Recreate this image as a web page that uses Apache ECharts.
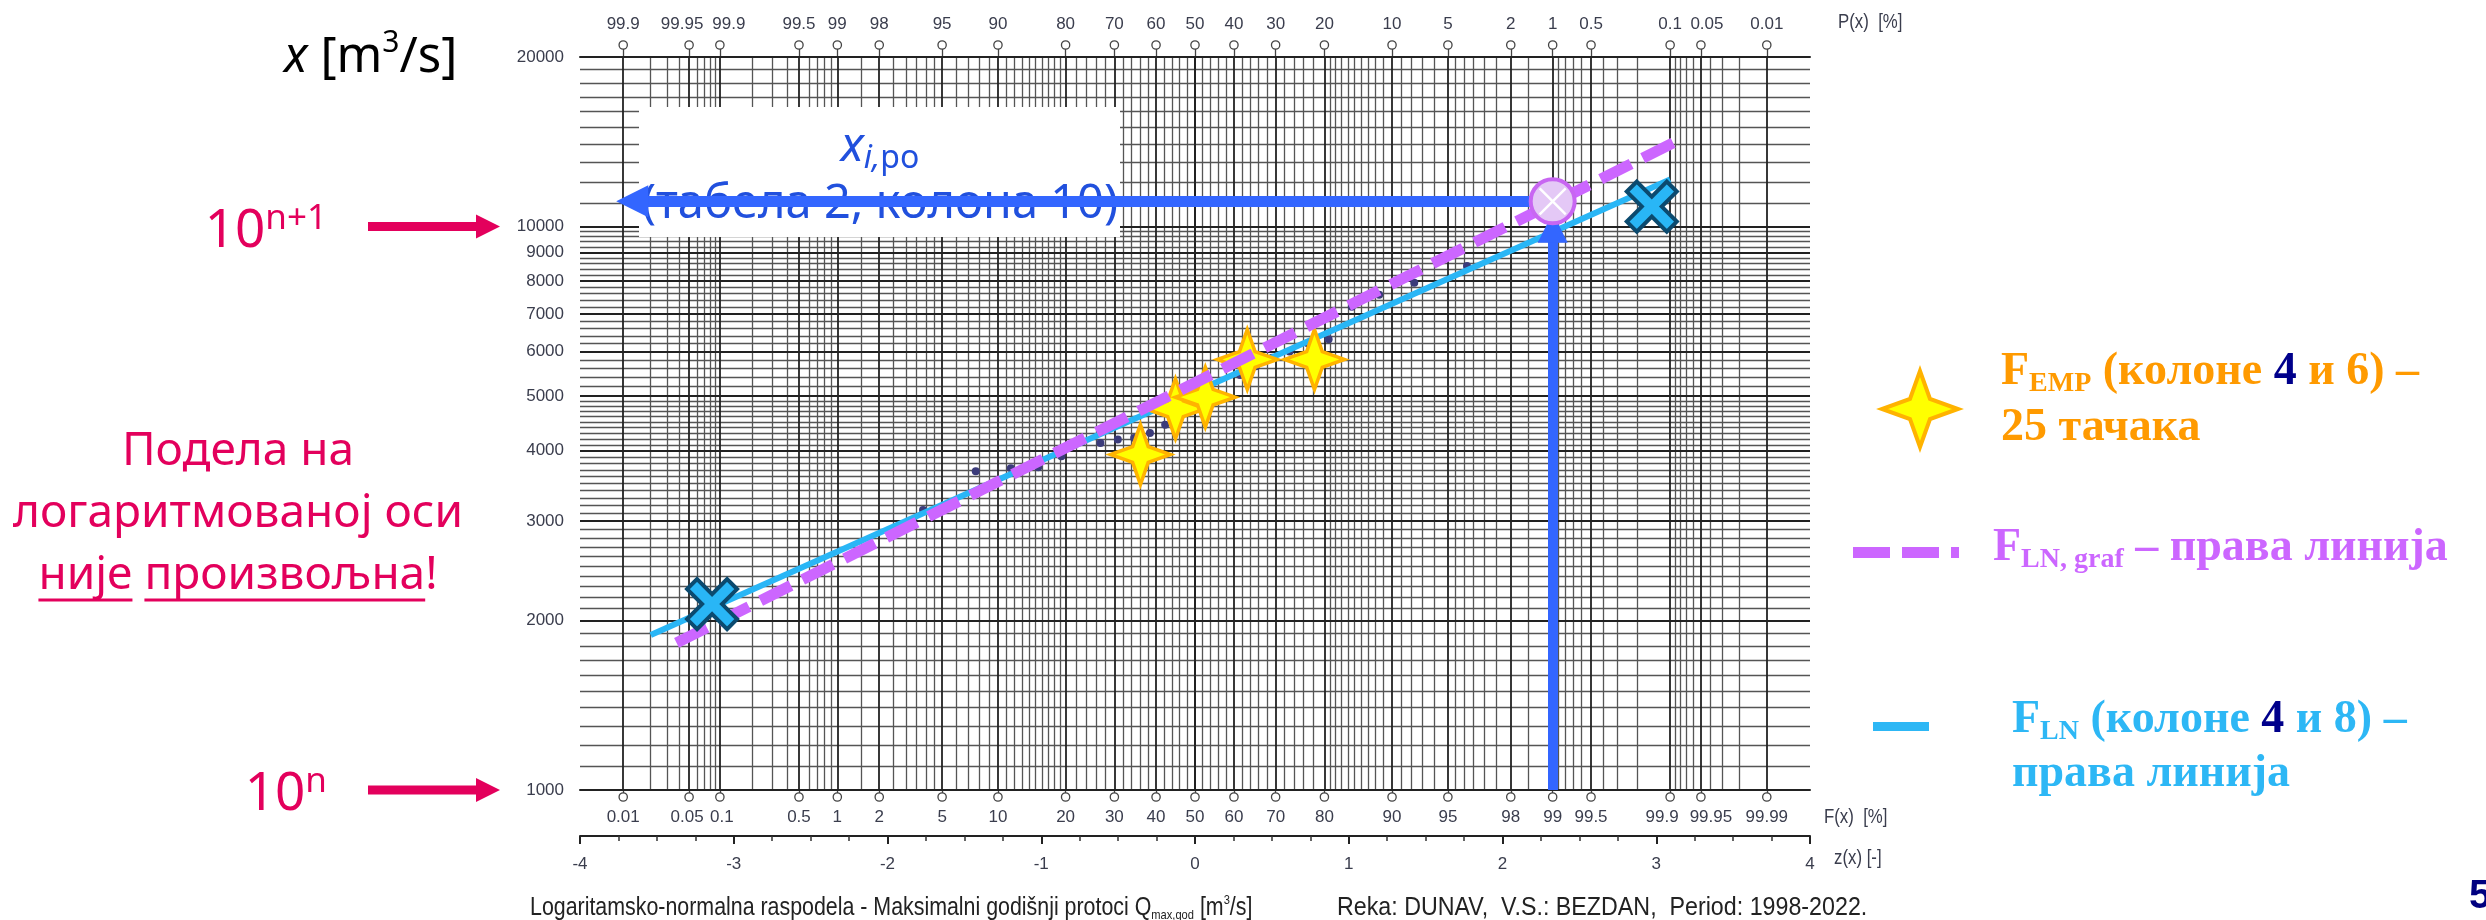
<!DOCTYPE html>
<html><head><meta charset="utf-8">
<script src="https://cdn.jsdelivr.net/npm/echarts@6/dist/echarts.min.js"></script>
<style>html,body{margin:0;padding:0;background:#fff}#c{width:2486px;height:920px}</style>
</head><body><div id="c"></div>
<script>
// ---------------- data ----------------
// probability tick positions (F, %), bottom labels and top (P) labels as printed
const fTickPct = [0.01,0.05,0.1,0.5,1,2,5,10,20,30,40,50,60,70,80,90,95,98,99,99.5,99.9,99.95,99.99];
const fTickLabels = ['0.01','0.05','0.1','0.5','1','2','5','10','20','30','40','50','60','70','80','90','95','98','99','99.5','99.9','99.95','99.99'];
const pTickLabels = ['99.9','99.95','99.9','99.5','99','98','95','90','80','70','60','50','40','30','20','10','5','2','1','0.5','0.1','0.05','0.01'];
// probability grid (lower half, %), mirrored for upper half
const gridLowPct = [0.01,0.02,0.03,0.04,0.05,0.06,0.07,0.08,0.09,0.1,0.2,0.3,0.4,0.5,0.6,0.7,0.8,0.9,1,1.5,2,2.5,3,3.5,4,4.5,5,6,7,8,9,10,11,12,13,14,15,16,17,18,19,20,22,24,26,28,30,32,34,36,38,40,42,44,46,48,50];
// value axis labels
const yTickValues = [1000,2000,3000,4000,5000,6000,7000,8000,9000,10000,20000];
// empirical points (z, Q) – 25 points
const empZ = [-1.769,-1.426,-1.198,-1.020,-0.869,-0.736,-0.615,-0.502,-0.396,-0.293,-0.194,-0.097,0,0.097,0.194,0.293,0.396,0.502,0.615,0.736,0.869,1.020,1.198,1.426,1.769];
const empQ = [3140,3680,3725,3740,3910,4150,4130,4190,4215,4300,4450,4600,4750,4850,5000,5450,5650,5850,6000,6200,6310,7210,7570,7950,8510];
// highlighted empirical points (stars)
const starZ = [-0.355,-0.127,0.067,0.34,0.777];
const starQ = [3940,4750,4980,5810,5810];
// F_LN line (columns 4 and 8)
const lnZ = [-3.54, 3.09];
const lnQ = [1885, 12120];
// F_LN,graf line
const grafZ = [-3.372, 3.153];
const grafQ = [1824, 14275];
// blue X markers
const xmZ = [-3.141, 2.971];
const xmQ = [2138, 10853];
// read-off point x_i,po
const poF = 99;
const poQ = 11090;
const arrowEndZ = -3.66;
const vArrowTopQ = 9950;

// ---------------- helpers ----------------
function probit(p){
 const a=[-3.969683028665376e+01,2.209460984245205e+02,-2.759285104469687e+02,1.383577518672690e+02,-3.066479806614716e+01,2.506628277459239e+00];
 const b=[-5.447609879822406e+01,1.615858368580409e+02,-1.556989798598866e+02,6.680131188771972e+01,-1.328068155288572e+01];
 const c=[-7.784894002430293e-03,-3.223964580411365e-01,-2.400758277161838e+00,-2.549732539343734e+00,4.374664141464968e+00,2.938163982698783e+00];
 const d=[7.784695709041462e-03,3.224671290700398e-01,2.445134137142996e+00,3.754408661907416e+00];
 const pl=0.02425, ph=1-pl; let q,r;
 if(p<pl){q=Math.sqrt(-2*Math.log(p));return (((((c[0]*q+c[1])*q+c[2])*q+c[3])*q+c[4])*q+c[5])/((((d[0]*q+d[1])*q+d[2])*q+d[3])*q+1);}
 if(p<=ph){q=p-0.5;r=q*q;return (((((a[0]*r+a[1])*r+a[2])*r+a[3])*r+a[4])*r+a[5])*q/(((((b[0]*r+b[1])*r+b[2])*r+b[3])*r+b[4])*r+1);}
 q=Math.sqrt(-2*Math.log(1-p));return -(((((c[0]*q+c[1])*q+c[2])*q+c[3])*q+c[4])*q+c[5])/((((d[0]*q+d[1])*q+d[2])*q+d[3])*q+1);
}
const fZ = fTickPct.map(p => probit(p/100));
function nearestIdx(arr, v){let bi=0,bd=1e9;arr.forEach((x,i)=>{const d=Math.abs(x-v);if(d<bd){bd=d;bi=i;}});return bi;}
const zPo = probit(poF/100);

// grid line sets
const gridPct = gridLowPct.concat(gridLowPct.filter(p=>p<50).map(p=>+(100-p).toFixed(4)));
const majorPctSet = new Set(fTickPct.map(String));
const vMinor = [], vMajor = [];
gridPct.forEach(p => { const z = probit(p/100); const item = {coords:[[z,1000],[z,20000]]}; (majorPctSet.has(String(p)) ? vMajor : vMinor).push(item); });
const hMinor = [], hMajor = [];
for (let q = 1100; q < 5000; q += 100) { if (q % 1000 === 0) continue; hMinor.push({coords:[[-4,q],[4,q]]}); }
for (let q = 5200; q < 10000; q += 200) { if (q % 1000 === 0) continue; hMinor.push({coords:[[-4,q],[4,q]]}); }
for (let q = 11000; q < 20000; q += 1000) hMinor.push({coords:[[-4,q],[4,q]]});
yTickValues.forEach(q => hMajor.push({coords:[[-4,q],[4,q]]}));

const AX_FONT = 'Liberation Sans';
const AX_COL = '#3a3d4d';
const starPath = 'path://M5,0L6.3,3.7L10,5L6.3,6.3L5,10L3.7,6.3L0,5L3.7,3.7Z';
const xPath = 'path://M2,0L5,3L8,0L10,2L7,5L10,8L8,10L5,7L2,10L0,8L3,5L0,2Z';
const xLinesPath = 'path://M0,0L10,10M10,0L0,10';

// label nudges for crowded probability labels (px, + = right)
const topShift = {1:-7, 2:9, 21:6};
const botShift = {1:-2, 2:2, 20:-8, 21:10};
function makeRich(shiftMap, lh){
  const rich = {o:{width:7,height:7,lineHeight:8,borderColor:'#444',borderWidth:1.3,borderRadius:4,backgroundColor:'#fff'},
                t:{fontFamily:AX_FONT,fontSize:17,color:AX_COL,lineHeight:lh}};
  Object.keys(shiftMap).forEach(k => { const s = shiftMap[k];
    rich['t'+k] = {fontFamily:AX_FONT,fontSize:17,color:AX_COL,lineHeight:lh,padding: s>0 ? [0,0,0,2*s] : [0,-2*s,0,0]}; });
  return rich;
}
function tname(shiftMap, i){ return shiftMap[i] !== undefined ? 't'+i : 't'; }

const chart = echarts.init(document.getElementById('c'), null, {renderer:'canvas'});
const option = {
  animation:false,
  backgroundColor:'#fff',
  grid:{left:580, right:676, top:57, bottom:130, containLabel:false, outerBoundsMode:'none'},
  xAxis:[
    {type:'value', min:-4, max:4, interval:1, position:'bottom', offset:46,
     axisLine:{show:true,onZero:false,lineStyle:{color:'#222',width:2}},
     axisTick:{show:true,length:8,lineStyle:{color:'#222',width:2}},
     minorTick:{show:true,splitNumber:4,length:5,lineStyle:{color:'#333',width:1.5}},
     axisLabel:{margin:20,fontFamily:AX_FONT,fontSize:17,color:AX_COL,showMinLabel:true,showMaxLabel:true},
     splitLine:{show:false}},
    {type:'value', min:-4, max:4, position:'bottom', offset:0,
     axisLine:{show:true,onZero:false,lineStyle:{color:'#222',width:2}},
     axisTick:{show:true,customValues:fZ,length:4,lineStyle:{color:'#444',width:1.3}},
     axisLabel:{customValues:fZ, margin:3,
       formatter:v => { const i = nearestIdx(fZ,v); return '{o|}\n{' + tname(botShift,i) + '|' + fTickLabels[i] + '}'; },
       rich:makeRich(botShift,32)},
     splitLine:{show:false}},
    {type:'value', min:-4, max:4, position:'top', offset:0,
     axisLine:{show:true,onZero:false,lineStyle:{color:'#222',width:2}},
     axisTick:{show:true,customValues:fZ,length:8,lineStyle:{color:'#444',width:1.3}},
     axisLabel:{customValues:fZ, margin:8,
       formatter:v => { const i = nearestIdx(fZ,v); return '{' + tname(topShift,i) + '|' + pTickLabels[i] + '}\n{o|}'; },
       rich:makeRich(topShift,34)},
     splitLine:{show:false}}
  ],
  yAxis:[
    {type:'log', logBase:10, min:1000, max:20000, position:'left',
     axisLine:{show:true,lineStyle:{color:'#222',width:2}},
     axisTick:{show:true,customValues:yTickValues,length:6,lineStyle:{color:'#222',width:2}},
     axisLabel:{customValues:yTickValues, margin:16, fontFamily:AX_FONT, fontSize:17, color:AX_COL, formatter:v=>String(Math.round(v))},
     splitLine:{show:false}, minorTick:{show:false}},
    {type:'log', logBase:10, min:1000, max:20000, position:'right',
     axisLine:{show:true,lineStyle:{color:'#222',width:2}}, axisTick:{show:false}, axisLabel:{show:false}, splitLine:{show:false}}
  ],
  series:[
    {type:'lines', coordinateSystem:'cartesian2d', silent:true, z:1, lineStyle:{color:'#555555',width:1.3,opacity:1}, data:vMinor.concat(hMinor)},
    {type:'lines', coordinateSystem:'cartesian2d', silent:true, z:1, lineStyle:{color:'#222222',width:1.8,opacity:1}, data:vMajor.concat(hMajor)},
    {type:'scatter', name:'emp', z:20, symbol:'circle', symbolSize:8, itemStyle:{color:'#3b3b7a',opacity:1}, data:empZ.map((z,i)=>[z,empQ[i]])},
    {type:'line', name:'F_LN', z:21, symbol:'none', lineStyle:{color:'#29B6F6',width:6}, data:lnZ.map((z,i)=>[z,lnQ[i]])},
    {type:'scatter', name:'F_EMP', z:22, symbol:starPath, symbolSize:60, itemStyle:{color:'#FFFF00',borderColor:'#FFB300',borderWidth:3.5,opacity:1}, data:starZ.map((z,i)=>[z,starQ[i]])},
    {type:'line', name:'F_LN,graf', z:23, symbol:'none', lineStyle:{color:'#CC66FF',width:11,type:[34,13],cap:'butt'}, data:grafZ.map((z,i)=>[z,grafQ[i]])},
    {type:'scatter', name:'X', z:24, symbol:xPath, symbolSize:50, itemStyle:{color:'#29B6F6',borderColor:'#0B4A6F',borderWidth:4,opacity:1}, data:xmZ.map((z,i)=>[z,xmQ[i]])},
    {type:'lines', coordinateSystem:'cartesian2d', silent:true, z:25, symbol:['none','triangle'], symbolSize:[0,32],
     lineStyle:{color:'#3366FF',width:11,opacity:1,cap:'butt'}, itemStyle:{color:'#3366FF'},
     data:[{coords:[[zPo,poQ],[arrowEndZ,poQ]]}]},
    {type:'lines', coordinateSystem:'cartesian2d', silent:true, z:25, symbol:['none','triangle'], symbolSize:[0,30],
     lineStyle:{color:'#3366FF',width:10,opacity:1,cap:'butt'},
     data:[{coords:[[zPo,1000],[zPo,vArrowTopQ]]}]},
    {type:'scatter', z:26, symbol:'circle', symbolSize:44, itemStyle:{color:'#E4C8F6',borderColor:'#C866F2',borderWidth:4,opacity:1}, data:[[zPo,poQ]]},
    {type:'scatter', z:27, symbol:xLinesPath, symbolSize:26, itemStyle:{color:'none',borderColor:'#FFFFFF',borderWidth:2.5,opacity:1}, data:[[zPo,poQ]]}
  ]
};
chart.setOption(option);

// ---------------- annotations ----------------
const PINK = '#E3005C';
const y10k = chart.convertToPixel({yAxisIndex:0}, 10000);
const y1k = chart.convertToPixel({yAxisIndex:0}, 1000);
function pinkArrow(yc){
  return {type:'polygon', z:30, silent:true, shape:{points:[[368,yc-4.5],[476,yc-4.5],[476,yc-12],[500,yc],[476,yc+12],[476,yc+4.5],[368,yc+4.5]]}, style:{fill:PINK}};
}
const PFONT = '"Noto Sans"';
const ctx = document.createElement('canvas').getContext('2d');
ctx.font = '46px "Noto Sans"';
const l3a = 'није', l3b = 'произвољна', l3full = 'није произвољна!';
const wFull = ctx.measureText(l3full).width, wA = ctx.measureText(l3a).width, wSp = ctx.measureText('није ').width, wB = ctx.measureText(l3b).width;
const l3left = 238 - wFull/2;

function txt(x,y,text,rich,align,extra){
  return Object.assign({type:'text', x:x, y:y, z:30, silent:true,
    style:{text:text, rich:rich, align:align||'left', textAlign:align||'left', verticalAlign:'middle', textVerticalAlign:'middle'}}, extra||{});
}
const ORANGE='#FF9A00', NAVY='#00008B', PURP='#CC66FF', LBLUE='#2DB7F5', TBLUE='#2150DD';
const LF = 'Liberation Serif';
function legRich(col){
  return {m:{fontFamily:LF,fontWeight:'bold',fontSize:46,fill:col,lineHeight:52},
          s:{fontFamily:LF,fontWeight:'bold',fontSize:28,fill:col,lineHeight:22,verticalAlign:'bottom'},
          k:{fontFamily:LF,fontWeight:'bold',fontSize:46,fill:NAVY,lineHeight:52}};
}
const sx = 1920, sy = 409, R = 38, ri = 10;
const NARROW = {scaleX:0.84};
chart.setOption({graphic:[
  // annotation box
  {type:'rect', z:5, silent:true, shape:{x:639,y:107,width:481,height:130}, style:{fill:'#ffffff'}},
  txt(880,147,'{x|x}{s|i,}{p|po}',{x:{fontFamily:PFONT,fontStyle:'italic',fontSize:48,fill:TBLUE,lineHeight:56},
      s:{fontFamily:PFONT,fontStyle:'italic',fontSize:32,fill:TBLUE,lineHeight:30,verticalAlign:'bottom'},
      p:{fontFamily:PFONT,fontSize:32,fill:TBLUE,lineHeight:30,verticalAlign:'bottom'}},'center',{z:6}),
  txt(880,205,'{a|(табела 2, колона 10)}',{a:{fontFamily:PFONT,fontSize:47,fill:TBLUE,lineHeight:56}},'center',{z:6}),
  // left annotations
  txt(284,58,'{i|x}{n| [m}{u|3}{n|/s]}',{i:{fontFamily:PFONT,fontStyle:'italic',fontSize:49,fill:'#000',lineHeight:60},
      n:{fontFamily:PFONT,fontSize:49,fill:'#000',lineHeight:60},u:{fontFamily:PFONT,fontSize:30,fill:'#000',lineHeight:34,verticalAlign:'top'}},'left'),
  txt(327,232,'{d|10}{u|n+1}',{d:{fontFamily:PFONT,fontSize:53,fill:PINK,lineHeight:60},u:{fontFamily:PFONT,fontSize:35,fill:PINK,lineHeight:36,verticalAlign:'top'}},'right'),
  txt(327,y1k+5,'{d|10}{u|n}',{d:{fontFamily:PFONT,fontSize:53,fill:PINK,lineHeight:60},u:{fontFamily:PFONT,fontSize:35,fill:PINK,lineHeight:36,verticalAlign:'top'}},'right'),
  pinkArrow(y10k), pinkArrow(y1k),
  txt(238,452,'{a|Подела на}',{a:{fontFamily:PFONT,fontSize:46,fill:PINK}},'center'),
  txt(238,514,'{a|логаритмованој оси}',{a:{fontFamily:PFONT,fontSize:46,fill:PINK}},'center'),
  txt(238,576,'{a|' + l3full + '}',{a:{fontFamily:PFONT,fontSize:46,fill:PINK}},'center'),
  {type:'line', z:30, silent:true, shape:{x1:l3left, y1:600, x2:l3left+wA, y2:600}, style:{stroke:PINK, lineWidth:3}},
  {type:'line', z:30, silent:true, shape:{x1:l3left+wSp, y1:600, x2:l3left+wSp+wB, y2:600}, style:{stroke:PINK, lineWidth:3}},
  // axis names
  txt(1838,22,'{a|P(x)  [%]}',{a:{fontFamily:AX_FONT,fontSize:20,fill:AX_COL}},'left',NARROW),
  txt(1824,817,'{a|F(x)  [%]}',{a:{fontFamily:AX_FONT,fontSize:20,fill:AX_COL}},'left',NARROW),
  txt(1834,858,'{a|z(x) [-]}',{a:{fontFamily:AX_FONT,fontSize:20,fill:AX_COL}},'left',NARROW),
  // footer
  txt(530,908,'{a|Logaritamsko-normalna raspodela - Maksimalni godišnji protoci Q}{s|max,god}{a| [m}{u|3}{a|/s]}',
      {a:{fontFamily:AX_FONT,fontSize:25,fill:'#222',lineHeight:28},s:{fontFamily:AX_FONT,fontSize:13,fill:'#222',lineHeight:14,verticalAlign:'bottom'},
       u:{fontFamily:AX_FONT,fontSize:13,fill:'#222',lineHeight:14,verticalAlign:'top'}},'left',{scaleX:0.855}),
  txt(1337,908,'{a|Reka: DUNAV,  V.S.: BEZDAN,  Period: 1998-2022.}',{a:{fontFamily:AX_FONT,fontSize:25,fill:'#222'}},'left',{scaleX:0.93}),
  // legend
  {type:'polygon', z:30, silent:true, shape:{points:[[sx,sy-R],[sx+ri,sy-ri],[sx+R,sy],[sx+ri,sy+ri],[sx,sy+R],[sx-ri,sy+ri],[sx-R,sy],[sx-ri,sy-ri]]},
   style:{fill:'#FFFF00', stroke:'#FFB300', lineWidth:4}},
  txt(2001,372,'{m|F}{s|EMP}{m| (колоне }{k|4}{m| и 6) –}',legRich(ORANGE),'left'),
  txt(2001,428,'{m|25 тачака}',legRich(ORANGE),'left'),
  {type:'rect', z:30, silent:true, shape:{x:1853,y:547,width:37,height:11}, style:{fill:PURP}},
  {type:'rect', z:30, silent:true, shape:{x:1902,y:547,width:37,height:11}, style:{fill:PURP}},
  {type:'rect', z:30, silent:true, shape:{x:1951,y:547,width:8,height:11}, style:{fill:PURP}},
  txt(1993,548,'{m|F}{s|LN, graf}{m| – права линија}',legRich(PURP),'left'),
  {type:'rect', z:30, silent:true, shape:{x:1873,y:722,width:56,height:9}, style:{fill:LBLUE}},
  txt(2012,720,'{m|F}{s|LN}{m| (колоне }{k|4}{m| и 8) –}',legRich(LBLUE),'left'),
  txt(2012,774,'{m|права линија}',legRich(LBLUE),'left'),
  // page number fragment
  txt(2469,897,'{a|5}',{a:{fontFamily:'Liberation Sans',fontWeight:'bold',fontSize:40,fill:'#000080'}},'left')
]});
</script>
</body></html>
